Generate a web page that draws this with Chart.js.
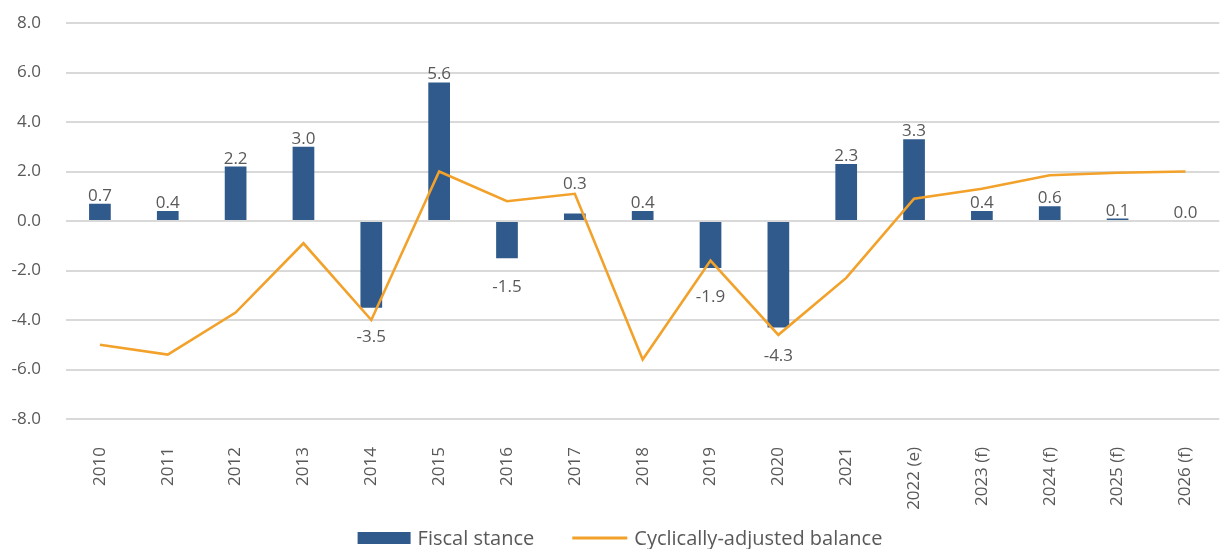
<!DOCTYPE html>
<html>
<head>
<meta charset="utf-8">
<script src="https://cdn.jsdelivr.net/npm/chart.js@4/dist/chart.umd.min.js"></script>
<style>
  html, body { margin: 0; padding: 0; background: #ffffff; }
  #wrap { width: 1226px; height: 549px; position: relative; }
</style>
</head>
<body>
<div id="wrap"><canvas id="c" width="1226" height="549"></canvas></div>
<script>
const categories = ["2010","2011","2012","2013","2014","2015","2016","2017","2018","2019","2020","2021","2022 (e)","2023 (f)","2024 (f)","2025 (f)","2026 (f)"];
const fiscalStance = [0.7, 0.4, 2.2, 3.0, -3.5, 5.6, -1.5, 0.3, 0.4, -1.9, -4.3, 2.3, 3.3, 0.4, 0.6, 0.1, 0.0];
const cyclicallyAdjusted = [-5.0, -5.4, -3.7, -0.9, -4.0, 2.0, 0.8, 1.1, -5.6, -1.6, -4.6, -2.3, 0.9, 1.3, 1.85, 1.95, 2.0];
const yTicks = [-8, -6, -4, -2, 0, 2, 4, 6, 8];

const FONT = "'Open Sans', 'DejaVu Sans', sans-serif";
const TEXT = "#595959";
const BAR_COLOR = '#305A8C';
const LINE_COLOR = '#F2A12A';

// Value labels on bars (outside end), lifted above the line where they would collide with it
const barLabels = {
  id: 'barLabels',
  afterDatasetsDraw(chart) {
    const bars = chart.getDatasetMeta(0).data;
    const pts = chart.getDatasetMeta(1).data;
    const ctx = chart.ctx;
    const lineYAt = (x) => {
      for (let k = 0; k < pts.length - 1; k++) {
        const a = pts[k], b = pts[k + 1];
        if (x >= a.x && x <= b.x) return a.y + (b.y - a.y) * (x - a.x) / (b.x - a.x);
      }
      return x < pts[0].x ? pts[0].y : pts[pts.length - 1].y;
    };
    ctx.save();
    ctx.font = "17px " + FONT;
    ctx.fillStyle = TEXT;
    ctx.textAlign = 'center';
    ctx.textBaseline = 'alphabetic';
    bars.forEach((bar, i) => {
      const v = fiscalStance[i];
      const txt = v.toFixed(1);
      if (v >= 0) {
        let base = bar.y - 3;
        const w = ctx.measureText(txt).width / 2;
        const top = base - 13, bottom = base;
        const ys = [lineYAt(bar.x - w), lineYAt(bar.x), lineYAt(bar.x + w)];
        if (Math.min(...ys) < bottom && Math.max(...ys) > top) {
          base = pts[i].y - 5;
        }
        ctx.fillText(txt, bar.x, base);
      } else {
        ctx.fillText(txt, bar.x, bar.y + 34);
      }
    });
    ctx.restore();
  }
};

// Legend drawn at the bottom centre
const bottomLegend = {
  id: 'bottomLegend',
  afterDraw(chart) {
    const ctx = chart.ctx;
    const ds = chart.data.datasets;
    const y = 538;
    ctx.save();
    ctx.font = "20px " + FONT;
    ctx.textBaseline = 'middle';
    ctx.textAlign = 'left';
    const symW = [53, 55];
    const gapSym = 7, gapItem = 38;
    const tw = ds.map(d => ctx.measureText(d.label).width);
    let total = 0;
    ds.forEach((d, i) => { total += symW[i] + gapSym + tw[i]; });
    total += gapItem * (ds.length - 1);
    let x = 620 - total / 2;
    ds.forEach((d, i) => {
      if (d.type === 'bar') {
        ctx.fillStyle = d.backgroundColor;
        ctx.fillRect(x, y - 6, symW[i], 12);
      } else {
        ctx.strokeStyle = d.borderColor;
        ctx.lineWidth = 3;
        ctx.beginPath();
        ctx.moveTo(x, y);
        ctx.lineTo(x + symW[i], y);
        ctx.stroke();
      }
      x += symW[i] + gapSym;
      ctx.fillStyle = TEXT;
      ctx.fillText(d.label, x, y + 1);
      x += tw[i] + gapItem;
    });
    ctx.restore();
  }
};

new Chart(document.getElementById('c'), {
  data: {
    labels: categories,
    datasets: [
      {
        type: 'bar',
        label: 'Fiscal stance',
        data: fiscalStance,
        backgroundColor: BAR_COLOR,
        borderWidth: 0,
        categoryPercentage: 0.32,
        barPercentage: 1.0,
        order: 2
      },
      {
        type: 'line',
        label: 'Cyclically-adjusted balance',
        data: cyclicallyAdjusted,
        borderColor: LINE_COLOR,
        backgroundColor: LINE_COLOR,
        borderWidth: 2.6,
        pointRadius: 0,
        tension: 0,
        order: 1
      }
    ]
  },
  options: {
    responsive: false,
    animation: false,
    layout: { padding: { left: 0, right: 6, top: 23, bottom: 40 } },
    plugins: {
      tooltip: { enabled: false },
      legend: { display: false }
    },
    scales: {
      x: {
        grid: { display: false },
        border: { display: false },
        afterFit(axis) { axis.height = 90; },
        ticks: {
          color: TEXT,
          font: { family: FONT, size: 17 },
          maxRotation: 90,
          minRotation: 90,
          autoSkip: false,
          padding: 20
        }
      },
      y: {
        min: -8,
        max: 8,
        afterBuildTicks(axis) { axis.ticks = yTicks.map(v => ({ value: v })); },
        afterFit(axis) { axis.width = 66; axis.paddingTop = 0; axis.paddingBottom = 0; },
        grid: { color: '#D9D9D9', lineWidth: 2, drawTicks: false },
        border: { display: false },
        ticks: {
          color: TEXT,
          font: { family: FONT, size: 17 },
          padding: 25,
          callback: v => Number(v).toFixed(1)
        }
      }
    }
  },
  plugins: [barLabels, bottomLegend]
});
</script>
</body>
</html>
